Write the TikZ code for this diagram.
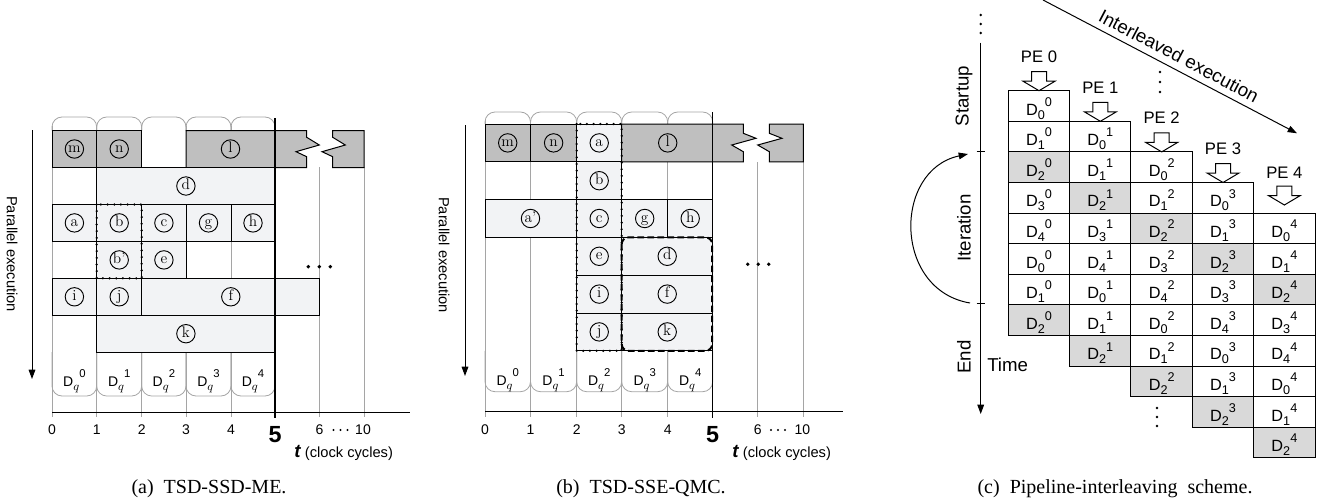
\documentclass[tikz,border=0pt]{standalone}
\usepackage{fontspec}
\newfontfamily\sansf{Liberation Sans}
\newfontfamily\seriff{Liberation Serif}
\usetikzlibrary{arrows.meta}
\definecolor{darkcell}{RGB}{191,191,191}
\definecolor{lightcell}{RGB}{242,243,245}
\definecolor{shadecell}{RGB}{217,217,217}
\definecolor{gridgray}{RGB}{165,165,165}
\newcommand\Dq[1]{{\sansf\fontsize{10.5}{10.5}\selectfont D}\raisebox{-3pt}{\fontsize{9}{9}\selectfont$q$}\raisebox{6.3pt}{\sansf\fontsize{8.5}{8.5}\selectfont #1}}
\newcommand\Dc[2]{{\fontsize{12.2}{12.2}\selectfont D}\raisebox{-3pt}{\fontsize{9.5}{9.5}\selectfont #1}\raisebox{6.6pt}{\fontsize{9.5}{9.5}\selectfont #2}}
\newcommand\tcaption{{\sansf\bfseries\itshape\fontsize{14}{14}\selectfont t} {\sansf\fontsize{11}{11}\selectfont (clock cycles)}}
\tikzset{
 darkbox/.style={draw=black, fill=darkcell, line width=0.75pt},
 lightbox/.style={draw=black, fill=lightcell, line width=0.75pt},
 gridline/.style={draw=gridgray, line width=0.75pt},
 tabline/.style={draw=gridgray, line width=0.6pt, rounded corners=7.5pt},
 circlet/.style={circle, draw, line width=0.7pt, inner sep=0pt, minimum size=13.8pt, text height=7.6pt, text depth=2.2pt, font=\fontsize{11.5}{11.5}\selectfont},
 dotbox/.style={draw=black, line width=1.9pt, dash pattern=on 0pt off 5pt, line cap=round},
 dashbox/.style={draw=black, line width=1.5pt, dash pattern=on 5pt off 2.5pt, rounded corners=5pt},
 tline/.style={draw=black, line width=1pt},
 axisline/.style={draw=black, line width=0.75pt},
 tnum/.style={font=\sansf\fontsize{10.5}{10.5}\selectfont, inner sep=0pt},
 tfive/.style={font=\sansf\bfseries\fontsize{17.5}{17.5}\selectfont, inner sep=0pt},
 tcap/.style={anchor=west, inner sep=0pt},
 sidelabel/.style={font=\sansf\fontsize{11}{11}\selectfont, rotate=-90, inner sep=0pt},
 sidearrow/.style={draw=black, line width=0.75pt, -{Triangle[length=7pt,width=5pt]}},
 dlab/.style={anchor=base, inner sep=0pt, font=\sansf},
 pcell/.style={draw=black, line width=0.75pt},
 pelab/.style={font=\sansf\fontsize{12.5}{12.5}\selectfont, inner sep=0pt},
 blockarrow/.style={draw=black, fill=white, line width=0.75pt, line join=miter},
 phase/.style={font=\sansf\fontsize{14}{14}\selectfont, rotate=90, inner sep=0pt},
 bigdot/.style={fill=black, draw=none},
 caption/.style={font=\seriff\fontsize{15}{15}\selectfont, inner sep=0pt, anchor=base},
}
\begin{document}
\begin{tikzpicture}[x=0.75pt,y=-0.75pt]
\useasboundingbox (0,0) rectangle (1330,503);

% ================= Panel (a) =================
\foreach \x in {52,96.7,141.7,186,231} \draw[gridline] (\x,126) -- (\x,417);
\draw[gridline] (319.6,167) -- (319.6,417);
\draw[gridline] (364,167) -- (364,417);
\foreach \a/\b in {52/96.7,96.7/141.7,141.7/186,186/231,231/275} {
  \draw[tabline] (\a,130.7) -- (\a,117) -- (\b,117) -- (\b,130.7);
  \draw[tabline] (\a,352.1) -- (\a,396) -- (\b,396) -- (\b,352.1);
}
% row 0
\draw[darkbox] (52,130.7) rectangle (96.7,167.6);
\draw[darkbox] (96.7,130.7) rectangle (141.7,167.6);
\draw[darkbox] (186,130.7) -- (306.7,130.7) -- (306.7,137.3) -- (319.3,145) -- (296,151.7) -- (306.7,156.7) -- (306.7,167.6) -- (186,167.6) -- cycle;
\draw[darkbox] (332.7,130.7) -- (364,130.7) -- (364,167.6) -- (332.7,167.6) -- (332.7,156.7) -- (322,151.7) -- (345.3,145) -- (332.7,137.3) -- cycle;
% row 1
\draw[lightbox] (96.7,167.6) rectangle (275,204.5);
% row 2
\draw[lightbox] (52,204.5) rectangle (96.7,241.4);
\draw[lightbox] (96.7,204.5) rectangle (141.7,241.4);
\draw[lightbox] (141.7,204.5) rectangle (186,241.4);
\draw[lightbox] (186,204.5) rectangle (231,241.4);
\draw[lightbox] (231,204.5) rectangle (275,241.4);
% row 3
\draw[lightbox] (96.7,241.4) rectangle (141.7,278.3);
\draw[lightbox] (141.7,241.4) rectangle (186,278.3);
% row 4
\draw[lightbox] (52,278.3) rectangle (96.7,315.2);
\draw[lightbox] (96.7,278.3) rectangle (141.7,315.2);
\draw[lightbox] (141.7,278.3) rectangle (319.6,315.2);
% row 5
\draw[lightbox] (96.7,315.2) rectangle (275,352.1);
% dotted box
\draw[dotbox] (96.7,204.5) rectangle (141.7,278.3);
% t = 5 line and axis
\draw[tline] (275,118) -- (275,418);
\draw[axisline] (52,412) -- (410,412);
% letters
\node[circlet] (am) at (74.4,149) {m};
\node[circlet] (an) at (119.2,149) {n};
\node[circlet] (al) at (230.5,149) {l};
\node[circlet] (ad) at (185.9,186) {d};
\node[circlet] (aa) at (74.4,222.9) {a};
\node[circlet] (ab) at (119.2,222.9) {b};
\node[circlet] (ac) at (163.9,222.9) {c};
\node[circlet] (ag) at (208.5,222.9) {g};
\node[circlet] (ah) at (253,222.9) {h};
\node[circlet] (abp) at (119.2,259.9) {b'};
\node[circlet] (ae) at (163.9,259.9) {e};
\node[circlet] (ai) at (74.4,296.8) {i};
\node[circlet] (aj) at (119.2,296.8) {j};
\node[circlet] (af) at (230.8,296.8) {f};
\node[circlet] (ak) at (185.9,333.7) {k};
% D_q labels
\node[dlab] (aD0) at (74.4,386) {\Dq{0}};
\node[dlab] (aD1) at (119.2,386) {\Dq{1}};
\node[dlab] (aD2) at (163.9,386) {\Dq{2}};
\node[dlab] (aD3) at (208.5,386) {\Dq{3}};
\node[dlab] (aD4) at (253,386) {\Dq{4}};
% dots
\foreach \x in {308.3,319.3,330.3} \fill[bigdot] (\x,266.7) circle (1.9);
% side arrow
\coordinate (apa) at (32,130);
\coordinate (apb) at (32,379);
\draw[sidearrow] (apa) -- (apb);
\node[sidelabel] (apar) at (12,254) {Parallel execution};
% axis labels
\node[tnum] (at0) at (52,430) {0};
\node[tnum] (at1) at (96.7,430) {1};
\node[tnum] (at2) at (141.7,430) {2};
\node[tnum] (at3) at (186,430) {3};
\node[tnum] (at4) at (231,430) {4};
\node[tfive] (at5) at (275,435) {5};
\node[tnum] (at6) at (319.6,430) {6};
\foreach \x in {333.5,340.5,347.5} \fill[bigdot] (\x,430) circle (1.2);
\node[tnum] (at10) at (363,430) {10};
\node[tcap] (atc) at (294,453) {\tcaption};
\node[caption] (capa) at (209,493) {(a)\ \ TSD-SSD-ME.};

% ================= Panel (b) =================
\foreach \x in {485,530.5,576.7,621.7,667.7} \draw[gridline] (\x,120) -- (\x,417);
\draw[gridline] (757.7,162) -- (757.7,417);
\draw[gridline] (803.3,162) -- (803.3,417);
\foreach \a/\b in {485/530.5,530.5/576.7,576.7/621.7,621.7/667.7,667.7/712.7} {
  \draw[tabline] (\a,124) -- (\a,112) -- (\b,112) -- (\b,124);
  \draw[tabline] (\a,350.8) -- (\a,391.7) -- (\b,391.7) -- (\b,350.8);
}
% row 0
\draw[darkbox] (485,124) rectangle (530.5,161.8);
\draw[darkbox] (530.5,124) rectangle (576.7,161.8);
\draw[lightbox] (576.7,124) rectangle (621.7,161.8);
\draw[darkbox] (621.7,124) -- (743.3,124) -- (743.3,133.3) -- (756,138.3) -- (731.7,145) -- (743.3,151.7) -- (743.3,161.8) -- (621.7,161.8) -- cycle;
\draw[darkbox] (769.3,124) -- (803.3,124) -- (803.3,161.8) -- (769.3,161.8) -- (769.3,151.7) -- (757.7,145) -- (782,138.3) -- (769.3,133.3) -- cycle;
% row 1
\draw[lightbox] (576.7,161.8) rectangle (621.7,199.6);
% row 2
\draw[lightbox] (485,199.6) rectangle (576.7,237.4);
\draw[lightbox] (576.7,199.6) rectangle (621.7,237.4);
\draw[lightbox] (621.7,199.6) rectangle (667.7,237.4);
\draw[lightbox] (667.7,199.6) rectangle (712.7,237.4);
% rows 3-5
\draw[lightbox] (576.7,237.4) rectangle (621.7,275.2);
\draw[lightbox] (576.7,275.2) rectangle (621.7,313);
\draw[lightbox] (576.7,313) rectangle (621.7,350.8);
\draw[lightbox] (621.7,237.4) rectangle (712.7,275.2);
\draw[lightbox] (621.7,275.2) rectangle (712.7,313);
\draw[lightbox] (621.7,313) rectangle (712.7,350.8);
% t = 5 line and axis
\draw[tline] (712.7,112) -- (712.7,418);
\draw[axisline] (485,411.7) -- (843,411.7);
% boxes
\draw[dotbox] (576.7,124) rectangle (621.7,350.8);
\draw[dashbox] (621.7,237.4) rectangle (712.2,350.8);
% letters
\node[circlet] (bm) at (507.7,142.9) {m};
\node[circlet] (bn) at (553.6,142.9) {n};
\node[circlet] (ba) at (599.2,142.9) {a};
\node[circlet] (bl) at (667.7,142.9) {l};
\node[circlet] (bb) at (599.2,180.7) {b};
\node[circlet] (bap) at (530.5,218.5) {a'};
\node[circlet] (bc) at (599.2,218.5) {c};
\node[circlet] (bg) at (644.7,218.5) {g};
\node[circlet] (bh) at (690.2,218.5) {h};
\node[circlet] (be) at (599.2,256.3) {e};
\node[circlet] (bd) at (667.2,256.3) {d};
\node[circlet] (bi) at (599.2,294.1) {i};
\node[circlet] (bf) at (667.2,294.1) {f};
\node[circlet] (bj) at (599.2,331.9) {j};
\node[circlet] (bk) at (667.2,331.9) {k};
% D_q labels
\node[dlab] (bD0) at (507.7,385) {\Dq{0}};
\node[dlab] (bD1) at (553.6,385) {\Dq{1}};
\node[dlab] (bD2) at (599.2,385) {\Dq{2}};
\node[dlab] (bD3) at (644.7,385) {\Dq{3}};
\node[dlab] (bD4) at (690.2,385) {\Dq{4}};
\foreach \x in {747.7,758.2,768.7} \fill[bigdot] (\x,264.3) circle (1.9);
\coordinate (bpa) at (465,125);
\coordinate (bpb) at (465,376);
\draw[sidearrow] (bpa) -- (bpb);
\node[sidelabel] (bpar) at (444,255) {Parallel execution};
\node[tnum] (bt0) at (485,430) {0};
\node[tnum] (bt1) at (530.5,430) {1};
\node[tnum] (bt2) at (576.7,430) {2};
\node[tnum] (bt3) at (621.7,430) {3};
\node[tnum] (bt4) at (667.7,430) {4};
\node[tfive] (bt5) at (712.7,435) {5};
\node[tnum] (bt6) at (757.7,430) {6};
\foreach \x in {771,778,785} \fill[bigdot] (\x,430) circle (1.2);
\node[tnum] (bt10) at (802.3,430) {10};
\node[tcap] (btc) at (732,453) {\tcaption};
\node[caption] (capb) at (641,493) {(b)\ \ TSD-SSE-QMC.};

% ================= Panel (c) =================
\foreach \y in {15,24,33} \fill[bigdot] (980.7,\y) circle (1.4);
\coordinate (ts) at (980.7,42.7);
\coordinate (te) at (980.7,414);
\draw[sidearrow] (ts) -- (te);
\draw[axisline] (976.5,151.6) -- (985,151.6);
\draw[axisline] (976.5,303.9) -- (985,303.9);
\node[phase] (pstart) at (964,96) {Startup};
\node[phase] (piter) at (964,228) {Iteration};
\node[phase] (pend) at (964,357) {End};
\node[anchor=west, inner sep=0pt, font=\sansf\fontsize{14}{14}\selectfont] (ptime) at (987,365) {Time};
\coordinate (loopa) at (970,303);
\coordinate (loopb) at (968,154);
\draw[sidearrow] (loopa) .. controls (893,290) and (893,170) .. (loopb);
\coordinate (ila) at (1043,0);
\coordinate (ilb) at (1297,133.3);
\draw[sidearrow] (ila) -- (ilb);
\node[font=\sansf\fontsize{14}{14}\selectfont, rotate=-27.7, inner sep=0pt] (ilab) at (1179,56) {Interleaved execution};
% cells
\foreach \k in {0,...,4} {
  \foreach \i/\d/\col in {0/0/white,1/1/white,2/2/shadecell,3/3/white,4/4/white,5/0/white,6/1/white,7/2/shadecell} {
    \draw[pcell, fill=\col] ({1008.3+61.34*\k},{90.7+30.6*(\k+\i)}) rectangle ++(61.34,30.6);
    \node[dlab] (c\k\i) at ({1039+61.34*\k},{90.7+30.6*(\k+\i)+24.3}) {\Dc{\d}{\k}};
  }
}
% PE labels and arrows
\foreach \k/\tip/\ly in {0/90.7/56.7,1/121.3/87.3,2/151.9/118,3/182.5/148.5,4/205/172.5} {
  \pgfmathsetmacro\cx{1039+61.34*\k}
  \node[pelab] (pe\k) at (\cx,\ly) {PE \k};
  \draw[blockarrow] (\cx-7.5,\tip-19) -- (\cx+7.5,\tip-19) -- (\cx+7.5,\tip-9.5) -- (\cx+16,\tip-9.5) -- (\cx,\tip) -- (\cx-16,\tip-9.5) -- (\cx-7.5,\tip-9.5) -- cycle;
}
\foreach \y in {72,82,92} \fill[bigdot] (1160,\y) circle (1.4);
\foreach \y in {408,417,426} \fill[bigdot] (1157,\y) circle (1.4);
\node[caption] (capc) at (1115,493) {(c)\ \ Pipeline-interleaving\ \ scheme.};
\end{tikzpicture}
\end{document}
